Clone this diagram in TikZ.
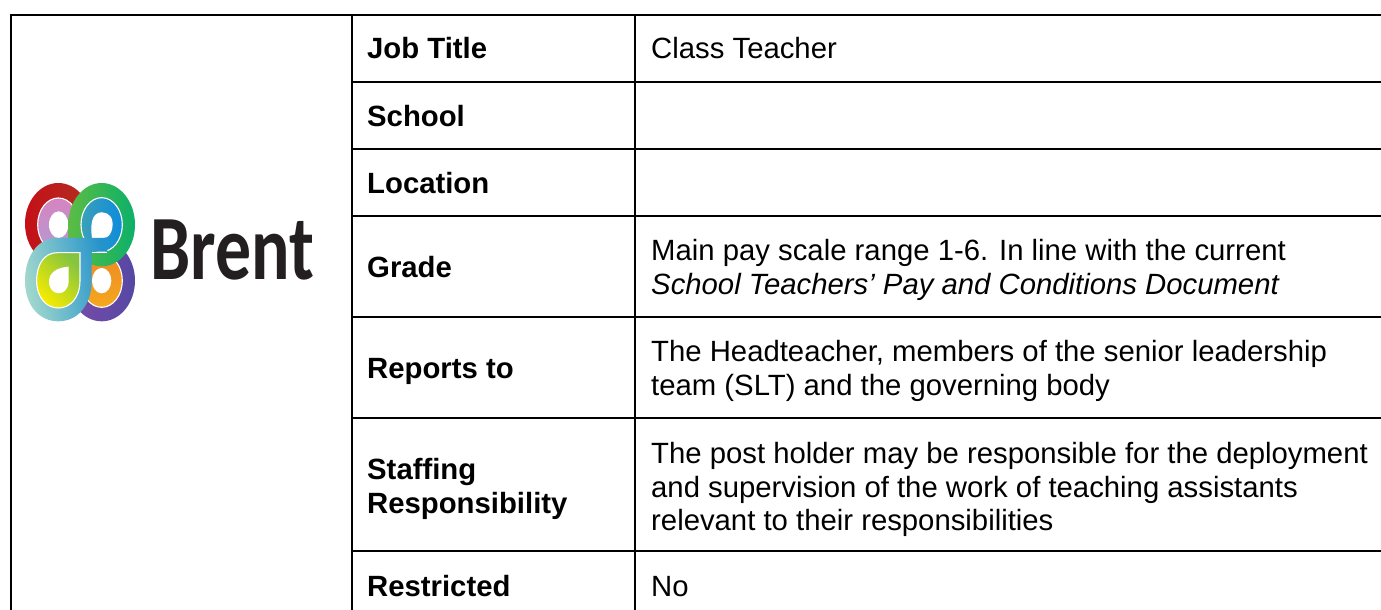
\documentclass[tikz,border=0pt]{standalone}
\usepackage{fontspec}
\setmainfont{Liberation Sans}
\newfontfamily\logofont{Carlito}
\definecolor{lgred}{HTML}{C41018}
\definecolor{lgredb}{HTML}{B03020}
\definecolor{lgpink}{HTML}{D684C0}
\definecolor{lgpinkb}{HTML}{B49AD2}
\definecolor{lgpurple}{HTML}{7A4CA8}
\definecolor{lgpurpleb}{HTML}{5548A4}
\definecolor{lgorange}{HTML}{F4A81E}
\definecolor{lgorangeb}{HTML}{EE8A24}
\definecolor{lggreen}{HTML}{5CBC44}
\definecolor{lggreenb}{HTML}{0CB06A}
\definecolor{lgblue}{HTML}{3CA0B8}
\definecolor{lgblueb}{HTML}{0C8CDC}
\definecolor{lgteal}{HTML}{A2D8CC}
\definecolor{lgtealb}{HTML}{2492CC}
\definecolor{lgyellow}{HTML}{F6EC00}
\definecolor{lgyellowb}{HTML}{84C440}
\definecolor{brentink}{HTML}{231F20}
\begin{document}
\begin{tikzpicture}[x=1pt,y=-1pt,
  cellrule/.style={line width=2pt,black},
  outerrule/.style={line width=2.6pt,black},
  lab/.style={anchor=base west,inner sep=0pt,font=\fontsize{29.3}{33}\selectfont\bfseries,text=black},
  val/.style={anchor=base west,inner sep=0pt,font=\fontsize{29.3}{33}\selectfont,text=black},
  logotext/.style={anchor=base west,inner sep=0pt,font=\fontsize{92}{92}\logofont\bfseries,text=brentink},
  gapline/.style={draw=white,line width=1.1pt}]
\useasboundingbox (0,0) rectangle (1381,610);
\fill[white] (0,0) rectangle (1381,610);
% grid
\draw[cellrule] (352,15) -- (352,610);
\draw[cellrule] (635,15) -- (635,610);
\foreach \yy in {81.5,149,216,317,418,551}{\draw[cellrule] (352,\yy) -- (1381,\yy);}
\draw[outerrule] (1381,15) -- (11,15) -- (11,610);
% logo
\begin{scope}[shift={(20,178)},x=0.3333pt,y=-0.3333pt]
  \shade[left color=lgpurple,right color=lgpurpleb] (245,308) ellipse [x radius=100,y radius=122];
  \shade[top color=lgorangeb,bottom color=lgorange,gapline] (245,308) ellipse [x radius=62,y radius=80];
  \fill[white] (245,308) ellipse [x radius=29,y radius=38];
  \shade[left color=lgred,right color=lgredb] (115,137) ellipse [x radius=100,y radius=122];
  \shade[top color=lgpink,bottom color=lgpinkb,gapline] (115,140) ellipse [x radius=62,y radius=80];
  \fill[white] (116,140) ellipse [x radius=29,y radius=40];
  \shade[left color=lggreen,right color=lggreenb] (245,140) ellipse [x radius=100,y radius=125];
  \shade[left color=lggreen,right color=lggreen!81!lggreenb] (145,130) rectangle (182,200);
  \shade[left color=lgblue,right color=lgblueb,gapline] (245,140) ellipse [x radius=62,y radius=81];
  \fill[white] (216,180) .. controls (208,120) and (225,103) .. (246,103) .. controls (267,103) and (282,120) .. (277,150) .. controls (274,166) and (266,180) .. (250,180) -- cycle;
  \shade[left color=lgteal,right color=lgtealb,shading angle=100] (110,180) -- (262,180) -- (262,221) -- (215,221) -- (215,308) .. controls (215,385) and (170,430) .. (115,430) .. controls (60,430) and (15,385) .. (15,308) .. controls (15,240) and (50,180) .. (110,180) -- cycle;
  \draw[gapline] (215,222.5) -- (262,222.5);
  \shade[left color=lgyellow,right color=lgyellowb,shading angle=135,gapline] (112,224) -- (180,224) -- (180,308) .. controls (180,360) and (150,390) .. (115,390) .. controls (80,390) and (50,360) .. (50,308) .. controls (50,260) and (72,224) .. (112,224) -- cycle;
  \fill[white] (146,266) -- (146,310) .. controls (146,332) and (132,346) .. (116,346) .. controls (100,346) and (87,332) .. (87,310) .. controls (87,285) and (110,268) .. (146,266) -- cycle;
\end{scope}
\node[logotext] (brent) at (150,279) {\scalebox{0.78}[1]{Brent}};
% labels
\node[lab] (jobtitle) at (367,59) {Job Title};
\node[val] (classteacher) at (651,59) {Class Teacher};
\node[lab] (school) at (367,126) {School};
\node[lab] (location) at (367,193) {Location};
\node[lab] (grade) at (367,277) {Grade};
\node[val] (grade1) at (651,260) {Main pay scale range 1-6. In line with the current};
\node[val] (grade2) at (651,294) {\itshape School Teachers’ Pay and Conditions Document};
\node[lab] (reports) at (367,378) {Reports to};
\node[val] (reports1) at (651,361) {The Headteacher, members of the senior leadership};
\node[val] (reports2) at (651,395) {team (SLT) and the governing body};
\node[lab] (staffing1) at (367,479) {Staffing};
\node[lab] (staffing2) at (367,513) {Responsibility};
\node[val] (staff1) at (651,463) {The post holder may be responsible for the deployment};
\node[val] (staff2) at (651,497) {and supervision of the work of teaching assistants};
\node[val] (staff3) at (651,530) {relevant to their responsibilities};
\node[lab] (restricted) at (367,596) {Restricted};
\node[val] (no) at (651,596) {No};
\end{tikzpicture}
\end{document}
